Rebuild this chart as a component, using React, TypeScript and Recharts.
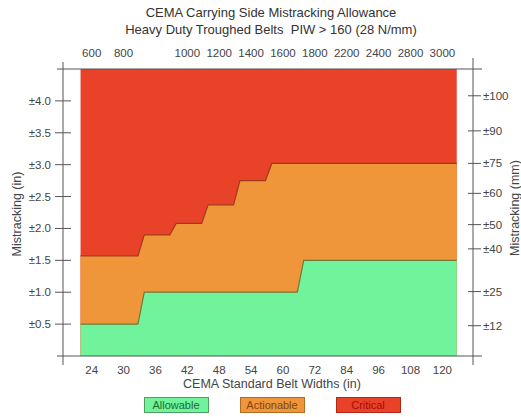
import React from 'react';
import { ComposedChart, Area, XAxis, YAxis, Legend } from 'recharts';

// ---- data ----
const beltWidths = [24, 30, 36, 42, 48, 54, 60, 72, 84, 96, 108, 120];
const metricWidths = ['600', '800', '', '1000', '1200', '1400', '1600', '1800', '2200', '2400', '2800', '3000'];
const allowableIn = [0.5, 0.5, 1.0, 1.0, 1.0, 1.0, 1.0, 1.5, 1.5, 1.5, 1.5, 1.5];
const actionableIn = [1.57, 1.57, 1.9, 2.08, 2.37, 2.75, 3.02, 3.02, 3.02, 3.02, 3.02, 3.02];
const criticalIn = [4.5, 4.5, 4.5, 4.5, 4.5, 4.5, 4.5, 4.5, 4.5, 4.5, 4.5, 4.5];
const leftTicks = [0.5, 1.0, 1.5, 2.0, 2.5, 3.0, 3.5, 4.0];
const rightTickLabels = ['±12', '±25', '±40', '±50', '±60', '±75', '±90', '±100'];
const rightTickPos = [0.475, 1.01, 1.68, 2.06, 2.55, 3.02, 3.53, 4.08];
const legendItems = [
  { name: 'Allowable', fill: '#70F39A', border: '#4f9e62', text: '#1f6a33' },
  { name: 'Actionable', fill: '#F0963A', border: '#b06d22', text: '#7f4510' },
  { name: 'Critical', fill: '#E84228', border: '#b0281a', text: '#a50c0c' },
];

// layout constants
const X_MIN = -0.9;
const X_MAX = 11.96;
const Y_MIN = 0;
const Y_MAX = 4.5;
const BAND_L = 0.35;
const BAND_R = 0.45;
const AX = '#555';
const FONT = '"Liberation Sans", Arial, Helvetica, sans-serif';

const data = beltWidths.flatMap((_, i) => [
  { x: i - BAND_L, allowable: allowableIn[i], actionable: actionableIn[i], critical: criticalIn[i] },
  { x: i + BAND_R, allowable: allowableIn[i], actionable: actionableIn[i], critical: criticalIn[i] },
]);

const idx = beltWidths.map((_, i) => i);

const LeftTick = (props: any) => {
  const { x, y, payload } = props;
  const v = payload.value;
  if (v === Y_MIN || v === Y_MAX) {
    return <line x1={x - 6} x2={x} y1={y} y2={y} stroke={AX} strokeWidth={1} />;
  }
  return (
    <g>
      <line x1={x - 8} x2={x + 8} y1={y} y2={y} stroke={AX} strokeWidth={1} />
      <text x={x - 12} y={y} dy={4} textAnchor="end" fontSize={11.5} fill="#444" fontFamily={FONT}>
        {'±' + Number(v).toFixed(1)}
      </text>
    </g>
  );
};

const RightTick = (props: any) => {
  const { x, y, payload } = props;
  const v = payload.value;
  if (v === Y_MIN || v === Y_MAX) {
    return <line x1={x} x2={x + 9} y1={y} y2={y} stroke={AX} strokeWidth={1} />;
  }
  const k = rightTickPos.indexOf(v);
  return (
    <g>
      <line x1={x - 5} x2={x + 8} y1={y} y2={y} stroke={AX} strokeWidth={1} />
      <text x={x + 10} y={y} dy={4} textAnchor="start" fontSize={11.5} fill="#444" fontFamily={FONT}>
        {rightTickLabels[k]}
      </text>
    </g>
  );
};

const BottomTick = (props: any) => {
  const { x, y, payload } = props;
  const v = payload.value;
  if (v === X_MIN || v === X_MAX) {
    return <line x1={x} x2={x} y1={y} y2={y + 9} stroke={AX} strokeWidth={1} />;
  }
  return (
    <text x={x} y={y} dy={18} textAnchor="middle" fontSize={11.5} fill="#444" fontFamily={FONT}>
      {beltWidths[v]}
    </text>
  );
};

const TopTick = (props: any) => {
  const { x, y, payload } = props;
  const v = payload.value;
  if (v === X_MIN || v === X_MAX) {
    return <line x1={x} x2={x} y1={y} y2={y - (v === X_MIN ? 7 : 11)} stroke={AX} strokeWidth={1} />;
  }
  return (
    <text x={x} y={y} dy={-12} textAnchor="middle" fontSize={11.5} fill="#444" fontFamily={FONT}>
      {metricWidths[v]}
    </text>
  );
};

const LegendContent = () => (
  <div
    style={{
      height: 20,
      display: 'flex',
      justifyContent: 'center',
      alignItems: 'flex-end',
      gap: 31,
      paddingLeft: 23,
      fontFamily: FONT,
    }}
  >
    {legendItems.map((it) => (
      <div
        key={it.name}
        style={{
          width: 63,
          height: 14,
          background: it.fill,
          border: `1px solid ${it.border}`,
          color: it.text,
          fontSize: 11,
          lineHeight: '14px',
          textAlign: 'center',
        }}
      >
        {it.name}
      </div>
    ))}
  </div>
);

export default function App() {
  return (
    <div style={{ position: 'absolute', left: 0, top: 0, width: 521, height: 417, background: '#fff' }}>
      <ComposedChart
        width={521}
        height={417}
        data={data}
        margin={{ top: 39, right: 8, left: 20, bottom: 7 }}
      >
        <XAxis
          xAxisId="bottom"
          dataKey="x"
          type="number"
          orientation="bottom"
          domain={[X_MIN, X_MAX]}
          allowDataOverflow
          ticks={[X_MIN, ...idx, X_MAX]}
          interval={0}
          height={34}
          tickSize={0}
          tickMargin={0}
          tickLine={false}
          axisLine={{ stroke: AX }}
          tick={<BottomTick />}
        />
        <XAxis
          xAxisId="top"
          dataKey="x"
          type="number"
          orientation="top"
          domain={[X_MIN, X_MAX]}
          allowDataOverflow
          ticks={[X_MIN, ...idx, X_MAX]}
          interval={0}
          height={30}
          tickSize={0}
          tickMargin={0}
          tickLine={false}
          axisLine={{ stroke: AX }}
          tick={<TopTick />}
        />
        <YAxis
          yAxisId="left"
          type="number"
          orientation="left"
          domain={[Y_MIN, Y_MAX]}
          allowDataOverflow
          ticks={[Y_MIN, ...leftTicks, Y_MAX]}
          interval={0}
          width={43}
          tickSize={0}
          tickMargin={0}
          tickLine={false}
          axisLine={{ stroke: AX }}
          tick={<LeftTick />}
        />
        <YAxis
          yAxisId="right"
          type="number"
          orientation="right"
          domain={[Y_MIN, Y_MAX]}
          allowDataOverflow
          ticks={[Y_MIN, ...rightTickPos, Y_MAX]}
          interval={0}
          width={40}
          tickSize={0}
          tickMargin={0}
          tickLine={false}
          axisLine={{ stroke: AX }}
          tick={<RightTick />}
        />
        <Area
          xAxisId="bottom"
          yAxisId="left"
          dataKey="critical"
          type="linear"
          fill="#E84228"
          fillOpacity={1}
          stroke="none"
          isAnimationActive={false}
        />
        <Area
          xAxisId="bottom"
          yAxisId="left"
          dataKey="actionable"
          type="linear"
          fill="#F0963A"
          fillOpacity={1}
          stroke="#a03a1c"
          strokeWidth={1.2}
          isAnimationActive={false}
        />
        <Area
          xAxisId="bottom"
          yAxisId="left"
          dataKey="allowable"
          type="linear"
          fill="#70F39A"
          fillOpacity={1}
          stroke="#6d7a3a"
          strokeWidth={1.2}
          isAnimationActive={false}
        />
        <Legend verticalAlign="bottom" content={<LegendContent />} wrapperStyle={{ left: 0, width: 521, bottom: 4 }} />
        <text x={271} y={17} textAnchor="middle" fontSize={13} fill="#333" fontFamily={FONT}>
          CEMA Carrying Side Mistracking Allowance
        </text>
        <text x={271} y={33.5} textAnchor="middle" fontSize={13} fill="#333" fontFamily={FONT}>
          {'Heavy Duty Troughed Belts\u00A0 PIW > 160 (28 N/mm)'}
        </text>
        <text
          x={17}
          y={214}
          transform="rotate(-90, 17, 214)"
          textAnchor="middle"
          dominantBaseline="central"
          fontSize={12.5}
          fill="#444"
          fontFamily={FONT}
        >
          Mistracking (in)
        </text>
        <text
          x={515}
          y={208}
          transform="rotate(-90, 515, 208)"
          textAnchor="middle"
          dominantBaseline="central"
          fontSize={12.5}
          fill="#444"
          fontFamily={FONT}
        >
          Mistracking (mm)
        </text>
        <text x={272} y={387.5} textAnchor="middle" fontSize={12.5} fill="#444" fontFamily={FONT}>
          CEMA Standard Belt Widths (in)
        </text>
      </ComposedChart>
    </div>
  );
}
